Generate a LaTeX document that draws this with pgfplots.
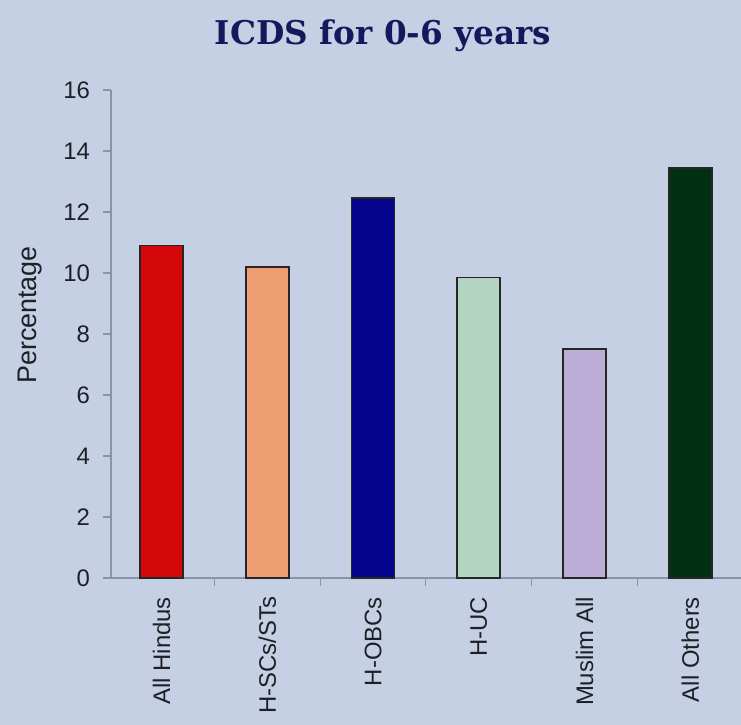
\documentclass[border=0pt]{standalone}
\usepackage{pgfplots}
\pgfplotsset{compat=1.18}
\usepackage{fontspec}
\setmainfont{Liberation Sans}
\newfontfamily\titlefont{DejaVu Serif}
\definecolor{bg}{HTML}{C5D0E4}
\definecolor{titlec}{HTML}{16185C}
\definecolor{axc}{HTML}{8A94A8}
\definecolor{txt}{HTML}{1E2028}
\definecolor{c1}{HTML}{D40808}
\definecolor{c2}{HTML}{EE9E72}
\definecolor{c3}{HTML}{04048C}
\definecolor{c4}{HTML}{B2D4C0}
\definecolor{c5}{HTML}{BCAED6}
\definecolor{c6}{HTML}{013012}
\begin{document}
\begin{tikzpicture}
\fill[bg] (-55.5bp,-73.5bp) rectangle (315bp,289bp);
\useasboundingbox (-55.5bp,-73.5bp) rectangle (315bp,289bp);
\node[anchor=base, text=titlec, font=\titlefont\bfseries\fontsize{16.4}{18}\selectfont] at (136bp,266.5bp) {ICDS for 0-6 years};
\begin{axis}[
  at={(0,0)}, anchor=south west,
  scale only axis, width=315bp, height=244bp,
  xmin=-0.478, xmax=5.48, ymin=0, ymax=16,
  ytick={0,2,...,16},
  xtick={0.5,1.5,2.5,3.5,4.5},
  xticklabels={},
  extra x ticks={0,1,2,3,4,5},
  extra x tick labels={All Hindus, H-SCs/STs, H-OBCs, H-UC, Muslim All, All Others},
  extra x tick style={major tick length=0pt},
  axis x line*=bottom, axis y line*=left,
  axis line style={draw=axc, line width=0.6bp},
  tick align=outside,
  major tick length=4bp,
  tick style={draw=axc, line width=0.6bp},
  /pgf/number format/assume math mode=true,
  yticklabel shift=3bp,
  xticklabel shift=6bp,
  yticklabel style={font=\fontsize{12}{14}\selectfont, text=txt},
  xticklabel style={font=\fontsize{12}{14}\selectfont, text=txt, rotate=90, anchor=east},
  ylabel={Percentage},
  ylabel style={font=\fontsize{13.5}{15}\selectfont, text=txt, at={(axis description cs:-0.129,0.539)}, anchor=center},
  ybar, bar width=21.5bp, bar shift=0pt,
  every axis plot/.append style={draw=black!85, line width=0.9bp},
]
\addplot[fill=c1] coordinates {(0,10.9)};
\addplot[fill=c2] coordinates {(1,10.2)};
\addplot[fill=c3] coordinates {(2,12.45)};
\addplot[fill=c4] coordinates {(3,9.85)};
\addplot[fill=c5] coordinates {(4,7.5)};
\addplot[fill=c6] coordinates {(5,13.45)};
\end{axis}
\end{tikzpicture}
\end{document}
